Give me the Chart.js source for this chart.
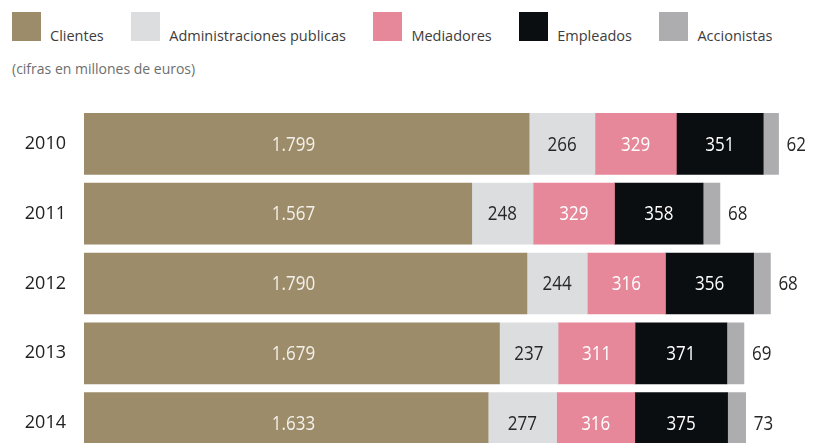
<!DOCTYPE html>
<html>
<head>
<meta charset="utf-8">
<script src="https://cdn.jsdelivr.net/npm/chart.js@4/dist/chart.umd.min.js"></script>
<style>
  html, body { margin: 0; padding: 0; background: #fff; overflow: hidden; width: 819px; height: 443px; }
  #wrap { position: relative; width: 819px; height: 443px; overflow: hidden; }
  #legend { position: absolute; top: 12px; left: 12px; display: flex; align-items: flex-end; font-family: "Open Sans", sans-serif; font-size: 14.5px; color: #3d3d3d; }
  #legend .item { display: flex; align-items: flex-end; margin-right: 27.5px; }
  #legend .box { width: 29px; height: 29px; }
  #legend .txt { margin-left: 9px; line-height: 14.5px; position: relative; top: 2px; white-space: nowrap; }
  #note { position: absolute; top: 59px; left: 12px; font-family: "Open Sans", sans-serif; font-size: 14px; color: #6e6e6e; }
  #box { position: absolute; top: 0; left: 0; width: 819px; height: 458px; }
</style>
</head>
<body>
<div id="wrap">
  <div id="legend"></div>
  <div id="note">(cifras en millones de euros)</div>
  <div id="box"><canvas id="chart"></canvas></div>
</div>
<script>
// valores en millones de euros
const years = ['2010', '2011', '2012', '2013', '2014'];
const clientes = [1799, 1567, 1790, 1679, 1633];
const administraciones = [266, 248, 244, 237, 277];
const mediadores = [329, 329, 316, 311, 316];
const empleados = [351, 358, 356, 371, 375];
const accionistas = [62, 68, 68, 69, 73];

const seriesNames = ['Clientes', 'Administraciones publicas', 'Mediadores', 'Empleados', 'Accionistas'];
const seriesColors = ['#9c8c6a', '#dcdddf', '#e6879a', '#0b0e11', '#adadb0'];
const labelColors = ['#f4f1ea', '#262626', '#ffffff', '#ffffff', '#262626'];
const X_MAX = 2930;

// 1799 -> "1.799"
const fmt = v => String(v).replace(/\B(?=(\d{3})+(?!\d))/g, '.');

// html legend
(function(){
  const lg = document.getElementById('legend');
  seriesNames.forEach((name, i) => {
    const it = document.createElement('div');
    it.className = 'item';
    it.innerHTML = `<div class="box" style="background:${seriesColors[i]}"></div><span class="txt">${name}</span>`;
    lg.appendChild(it);
  });
})();

const barLabels = {
  id: 'barLabels',
  afterDatasetsDraw(chart){
    const ctx = chart.ctx;
    const xs = chart.scales.x;
    // clientes labels sit at one column: half of the average
    const avgCli = clientes.reduce((s, v) => s + v, 0) / clientes.length;
    const cliX = xs.getPixelForValue(avgCli / 2);
    const last = chart.data.datasets.length - 1;
    ctx.save();
    ctx.font = '20px "Open Sans", sans-serif';
    ctx.textBaseline = 'middle';
    chart.data.datasets.forEach((ds, i) => {
      chart.getDatasetMeta(i).data.forEach((bar, j) => {
        const txt = fmt(ds.data[j]);
        let x, align;
        if(i === 0){ x = cliX; align = 'center'; }
        else if(i === last){ x = bar.x + 8; align = 'left'; }
        else { x = (bar.x + bar.base) / 2; align = 'center'; }
        ctx.save();
        ctx.translate(x, bar.y + 1);
        ctx.scale(0.85, 1);
        ctx.textAlign = align;
        ctx.fillStyle = labelColors[i];
        ctx.fillText(txt, 0, 0);
        ctx.restore();
      });
    });
    ctx.restore();
  }
};

const seriesData = [clientes, administraciones, mediadores, empleados, accionistas];

new Chart(document.getElementById('chart').getContext('2d'), {
  type: 'bar',
  data: {
    labels: years,
    datasets: seriesData.map((d, i) => ({
      label: seriesNames[i],
      data: d,
      backgroundColor: seriesColors[i],
      borderWidth: 0,
      barThickness: 61
    }))
  },
  options: {
    indexAxis: 'y',
    responsive: true,
    maintainAspectRatio: false,
    animation: false,
    layout: { padding: { top: 109, right: 10, left: 0, bottom: 0 } },
    plugins: { legend: { display: false }, tooltip: { enabled: false } },
    scales: {
      x: { stacked: true, display: false, min: 0, max: X_MAX },
      y: {
        stacked: true,
        grid: { display: false, drawTicks: false },
        border: { display: false },
        ticks: { color: '#222', padding: 18, font: { family: '"Open Sans", sans-serif', size: 18 } },
        afterFit: s => { s.width = 84; s.paddingTop = 0; s.paddingBottom = 0; }
      }
    }
  },
  plugins: [barLabels]
});
</script>
</body>
</html>
